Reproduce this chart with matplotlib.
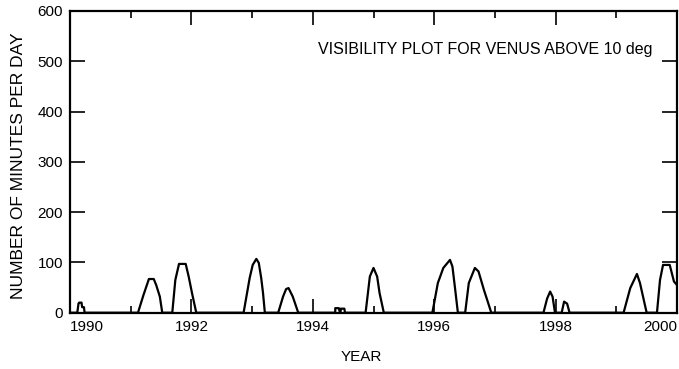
import matplotlib
matplotlib.use("Agg")
import matplotlib.pyplot as plt
from matplotlib.ticker import MultipleLocator

plt.rcParams['font.family'] = ['Liberation Sans', 'DejaVu Sans']

# Visibility data (year, minutes per day)
years = [1990.00, 1990.12, 1990.14, 1990.15, 1990.19, 1990.20, 1990.23, 1990.24,
         1991.12, 1991.21, 1991.30, 1991.38, 1991.42, 1991.48, 1991.52,
         1991.685, 1991.735, 1991.796, 1991.906, 1991.955, 1992.01, 1992.08,
         1992.86, 1992.96, 1993.01, 1993.07, 1993.11, 1993.15, 1993.18, 1993.21,
         1993.43, 1993.51, 1993.56, 1993.60, 1993.67, 1993.76,
         1994.37, 1994.37, 1994.43, 1994.44, 1994.46, 1994.46, 1994.52, 1994.53,
         1994.87, 1994.94, 1995.00, 1995.06, 1995.10, 1995.17,
         1995.97, 1996.06, 1996.15, 1996.26, 1996.30, 1996.34, 1996.39,
         1996.51, 1996.57, 1996.67, 1996.73, 1996.82, 1996.89, 1996.94,
         1997.80, 1997.86, 1997.91, 1997.95, 1997.99,
         1998.10, 1998.14, 1998.19, 1998.23,
         1999.12, 1999.23, 1999.34, 1999.39, 1999.50,
         1999.67, 1999.72, 1999.77, 1999.88, 1999.95, 2000.00]
minutes = [0, 0, 18, 20, 20, 11, 11, 0,
           0, 35, 67, 67, 55, 32, 0,
           0, 65, 97, 97, 72, 39, 0,
           0, 69, 95, 107, 99, 69, 39, 0,
           0, 32, 47, 49, 32, 0,
           0, 9, 9, 3, 3, 8, 8, 0,
           0, 72, 89, 72, 39, 0,
           0, 59, 89, 105, 92, 52, 0,
           0, 59, 89, 82, 45, 19, 0,
           0, 28, 42, 32, 0,
           0, 22, 18, 0,
           0, 49, 77, 59, 0,
           0, 65, 95, 95, 62, 55]

x_ticks = [1990, 1992, 1994, 1996, 1998, 2000]
y_ticks = [0, 100, 200, 300, 400, 500, 600]

fig = plt.figure(figsize=(6.79, 3.69), dpi=100)
ax = fig.add_axes([70/679, 1 - 312.7/369, (677 - 70)/679, (312.7 - 11)/369])

ax.plot(years, minutes, color='black', lw=1.6)

ax.set_xlim(1990, 2000)
ax.set_ylim(0, 600)

ax.set_xticks(x_ticks)
ax.xaxis.set_minor_locator(MultipleLocator(1))
ax.set_yticks(y_ticks)

for s in ax.spines.values():
    s.set_linewidth(1.6)

ax.tick_params(axis='x', which='major', direction='in', length=10, width=1.2,
               top=True, bottom=True, labelsize=11, pad=5)
ax.tick_params(axis='x', which='minor', direction='in', length=5, width=1.2,
               top=True, bottom=True)
ax.tick_params(axis='y', which='major', direction='in', length=11, width=1.2,
               left=True, right=True, labelsize=11, pad=5)

labels = ax.get_xticklabels()
labels[0].set_horizontalalignment('left')
labels[-1].set_horizontalalignment('right')

ax.set_ylabel('NUMBER OF MINUTES PER DAY', fontsize=12.5)
ax.yaxis.set_label_coords(-0.072, 0.486)
ax.set_xlabel('YEAR', fontsize=11)
ax.xaxis.set_label_coords(0.48, -0.125)

ax.text(0.96, 0.872, 'VISIBILITY PLOT FOR VENUS ABOVE 10 deg', transform=ax.transAxes,
        ha='right', va='center', fontsize=11.5)

fig.savefig('out.png', dpi=100)
